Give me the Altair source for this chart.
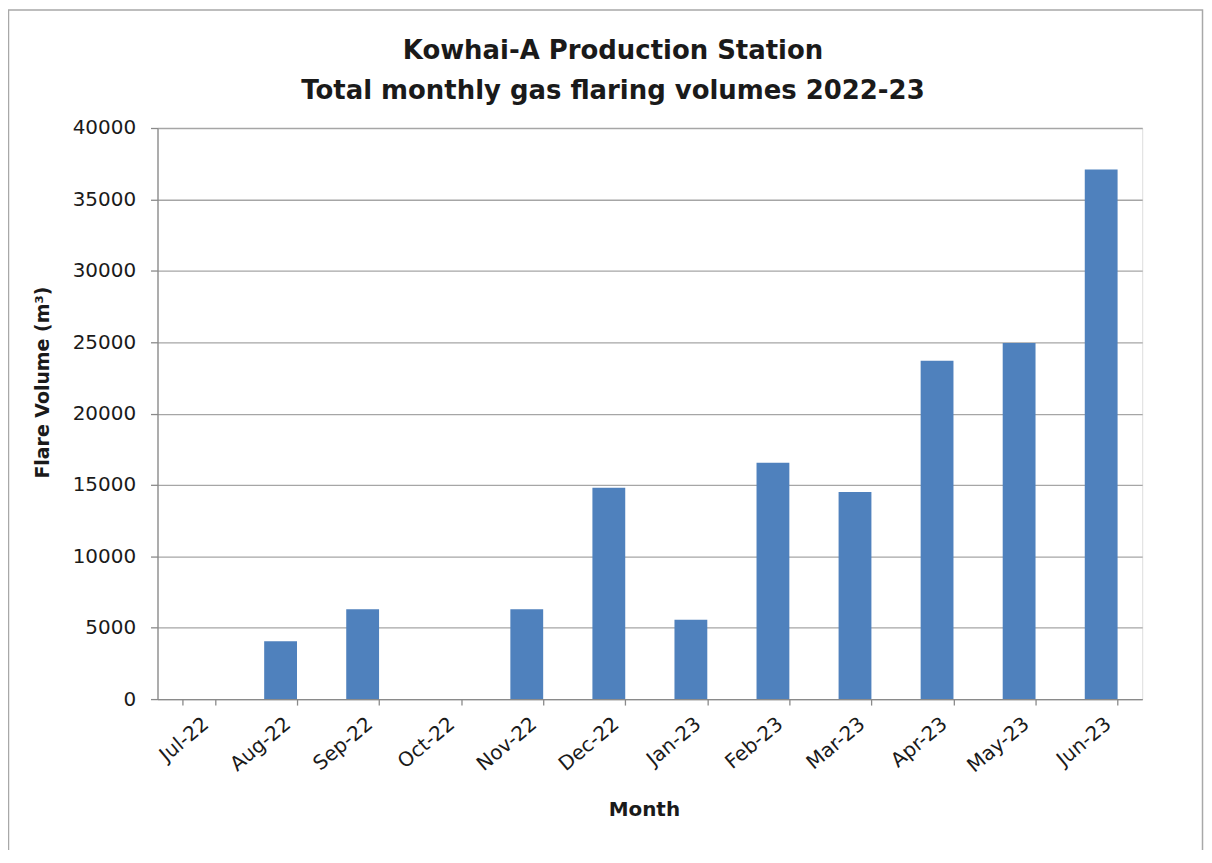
import altair as alt
import pandas as pd

months = ["Jul-22", "Aug-22", "Sep-22", "Oct-22", "Nov-22", "Dec-22",
          "Jan-23", "Feb-23", "Mar-23", "Apr-23", "May-23", "Jun-23"]
volumes = [0, 4050, 6300, 0, 6300, 14800, 5550, 16550, 14500, 23700, 24950, 37100]
y_ticks = [0, 5000, 10000, 15000, 20000, 25000, 30000, 35000, 40000]

df = pd.DataFrame({"Month": months, "Volume": volumes})

FONT = "DejaVu Sans"
AXIS_GREY = "#8a8a8a"
GRID_GREY = "#a6a6a6"
TEXT = "#1a1a1a"

bars = alt.Chart(df).mark_bar(color="#4f81bd").encode(
    x=alt.X(
        "Month:N",
        sort=months,
        scale=alt.Scale(paddingInner=0.6, paddingOuter=0.3),
        axis=alt.Axis(
            title="Month",
            labelAngle=-40,
            labelAlign="right",
            labelBaseline="middle",
            labelPadding=16,
            labelOffset=7,
            labelFont=FONT,
            labelFontSize=20,
            labelColor=TEXT,
            tickBand="extent",
            tickSize=6,
            tickColor=AXIS_GREY,
            tickWidth=1.3,
            domainColor=AXIS_GREY,
            domainWidth=1.3,
            grid=False,
            titleFont=FONT,
            titleFontSize=20,
            titleFontWeight="bold",
            titleColor=TEXT,
            titleX=488,
            titleY=117,
            titleBaseline="alphabetic",
            titleAlign="center",
        ),
    ),
    y=alt.Y(
        "Volume:Q",
        scale=alt.Scale(domain=[0, 40000], nice=False),
        axis=alt.Axis(
            title="Flare Volume (m³)",
            values=y_ticks,
            format="d",
            labelFont=FONT,
            labelFontSize=20,
            labelColor=TEXT,
            labelPadding=15,
            tickSize=7,
            tickColor=AXIS_GREY,
            tickWidth=1.3,
            domainColor=AXIS_GREY,
            domainWidth=1.3,
            grid=True,
            gridColor=GRID_GREY,
            gridWidth=1.3,
            titleFont=FONT,
            titleFontSize=19,
            titleFontWeight="bold",
            titleColor=TEXT,
            titleX=-115,
            titleY=255,
            titleBaseline="middle",
            titleAlign="center",
            titleAngle=-90,
        ),
    ),
)

frame = alt.Chart(pd.DataFrame({"f": [0]})).mark_rect(
    filled=False, stroke="#a8a8a8", strokeWidth=1.5
).encode(
    x=alt.value(-149.5), x2=alt.value(1048.5),
    y=alt.value(-118.5), y2=alt.value(760),
)

chart = alt.layer(frame, bars).properties(
    width=988,
    height=573,
    padding={"left": 150, "top": 119, "right": 62, "bottom": 150},
    autosize=alt.AutoSizeParams(type="none"),
    title=alt.TitleParams(
        ["Kowhai-A Production Station", "Total monthly gas flaring volumes 2022-23"],
        font=FONT,
        fontSize=26,
        fontWeight="bold",
        lineHeight=40,
        anchor="middle",
        baseline="alphabetic",
        dx=-37,
        dy=116,
        offset=0,
        color=TEXT,
    ),
).configure_view(stroke=None).configure(background="white")

chart.save("out.html", embed_options={"renderer": "svg", "actions": False})
